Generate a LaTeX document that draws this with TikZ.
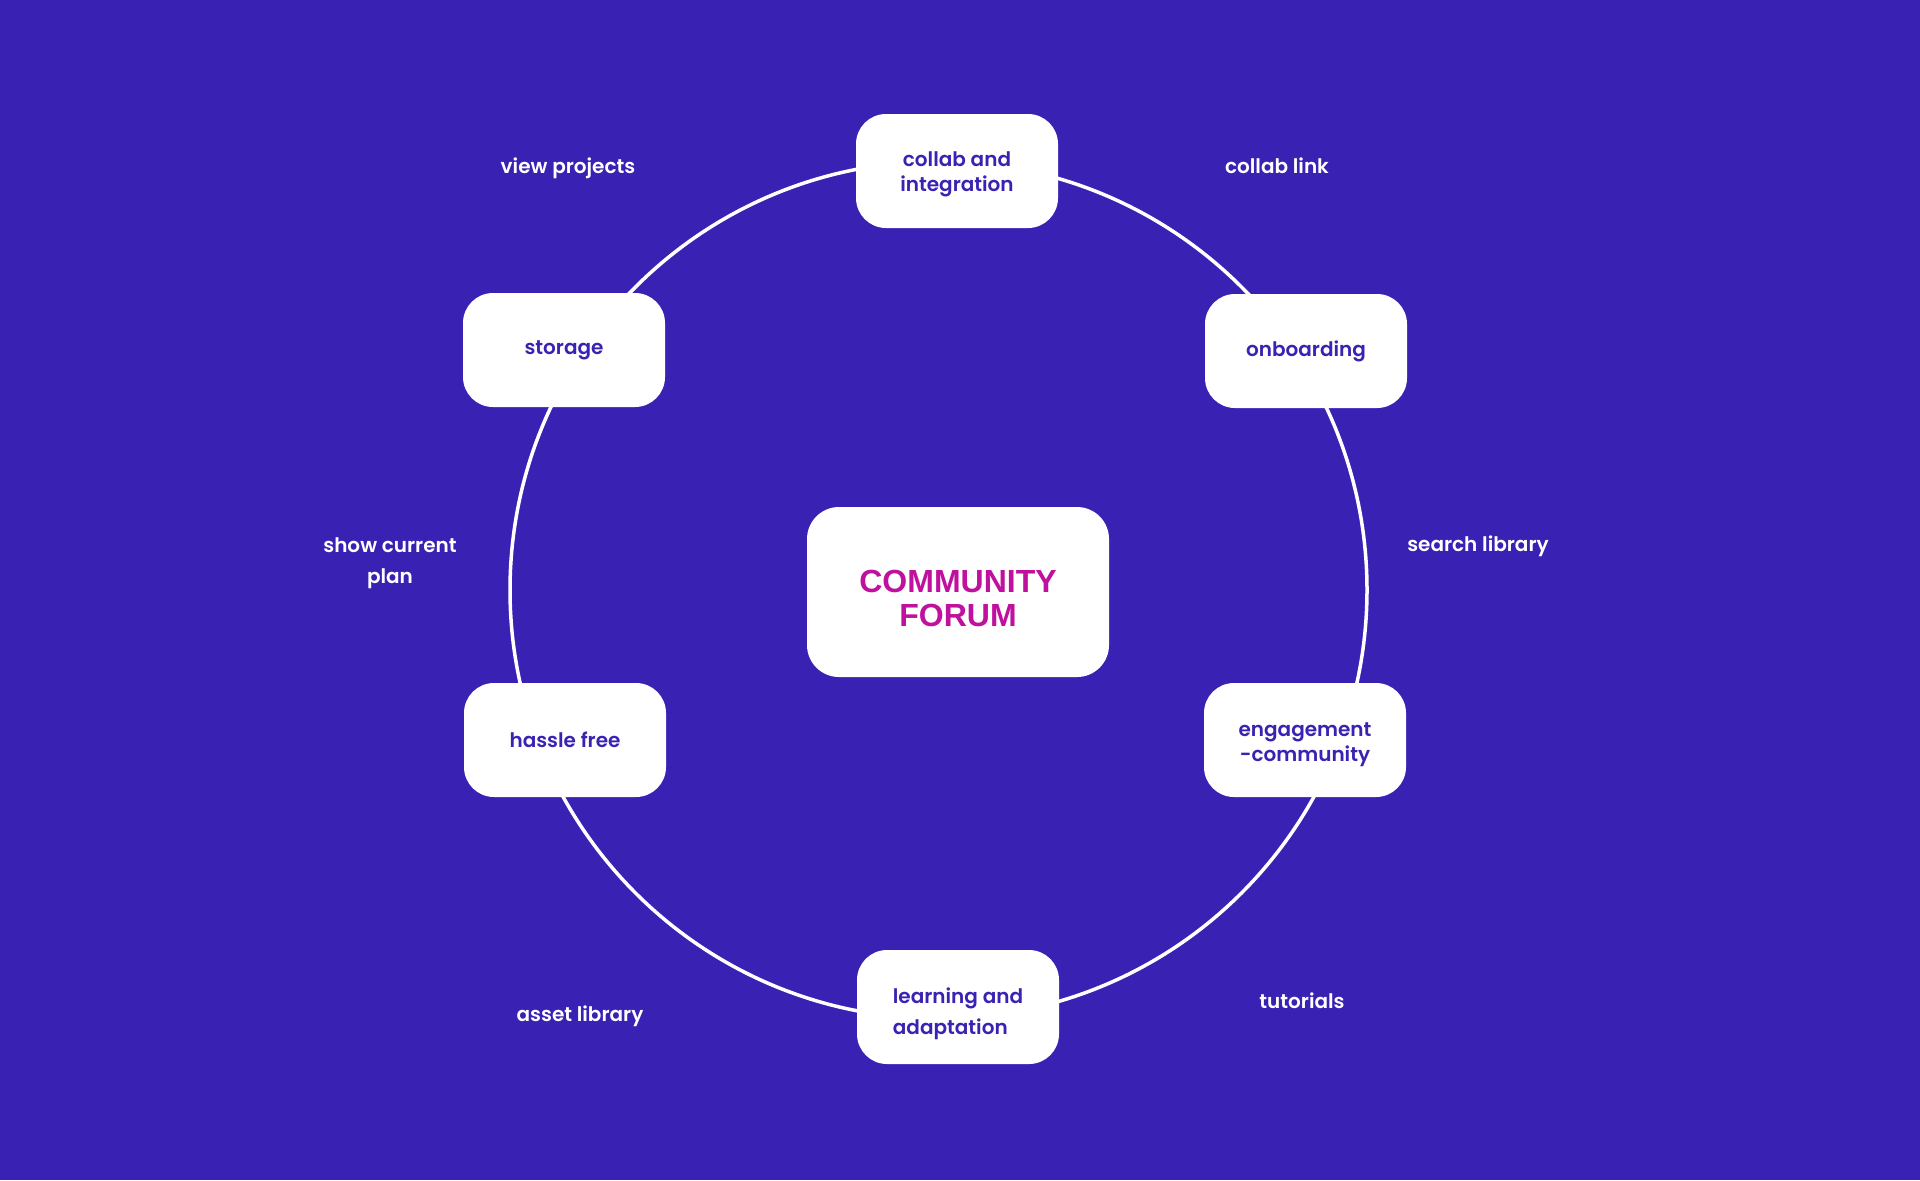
\documentclass[tikz,border=0pt]{standalone}
\usepackage{fontspec}
\newfontfamily\pops{Poppins SemiBold}
\newfontfamily\titlefont{Liberation Sans}
\definecolor{bg}{RGB}{57,33,180}
\definecolor{boxtext}{RGB}{58,34,178}
\definecolor{hubtext}{RGB}{192,16,158}
\begin{document}
\begin{tikzpicture}[x=0.5pt,y=-0.5pt,
  box/.style={fill=white, rounded corners=15pt, minimum width=101pt, minimum height=57pt,
    inner sep=0pt, text=boxtext, align=center, font=\pops\fontsize{10}{12.5}\selectfont},
  hub/.style={fill=white, rounded corners=16pt, minimum width=151pt, minimum height=85pt,
    inner sep=0pt, text=hubtext, align=center, font=\titlefont\bfseries\fontsize{16}{17.3}\selectfont},
  lbl/.style={text=white, align=center, inner sep=0pt, font=\pops\fontsize{10}{15.3}\selectfont},
  ring/.style={draw=white, line width=1.75pt}]
\useasboundingbox (0,0) rectangle (1920,1180);
\fill[bg] (0,0) rectangle (1920,1180);
\coordinate (ringc) at (938.5,590);
\draw[ring] (ringc) circle[radius=214.25pt];
\node[hub, text height=35pt] (forum) at (958,592) {COMMUNITY\\FORUM};
\node[box, text height=23.5pt, font=\pops\fontsize{10}{12.8}\selectfont] (collab) at (957,171) {collab and\\integration};
\node[box] (onb) at (1306,351) {onboarding};
\node[box, text height=24.4pt] (eng) at (1305,740) {engagement\\-community};
\node[box, align=left, text height=30pt, font=\pops\fontsize{10}{15.3}\selectfont] (learn) at (958,1007) {learning and\\adaptation};
\node[box] (hassle) at (565,740) {hassle free};
\node[box] (storage) at (564,350) {storage};
\node[lbl] (l1) at (568,168.5) {view projects};
\node[lbl] (l2) at (1277,166) {collab link};
\node[lbl] (l3) at (1478,546) {search library};
\node[lbl] (l4) at (390,563) {show current\\plan};
\node[lbl] (l5) at (580,1016.5) {asset library};
\node[lbl] (l6) at (1302,1001) {tutorials};
\end{tikzpicture}
\end{document}
